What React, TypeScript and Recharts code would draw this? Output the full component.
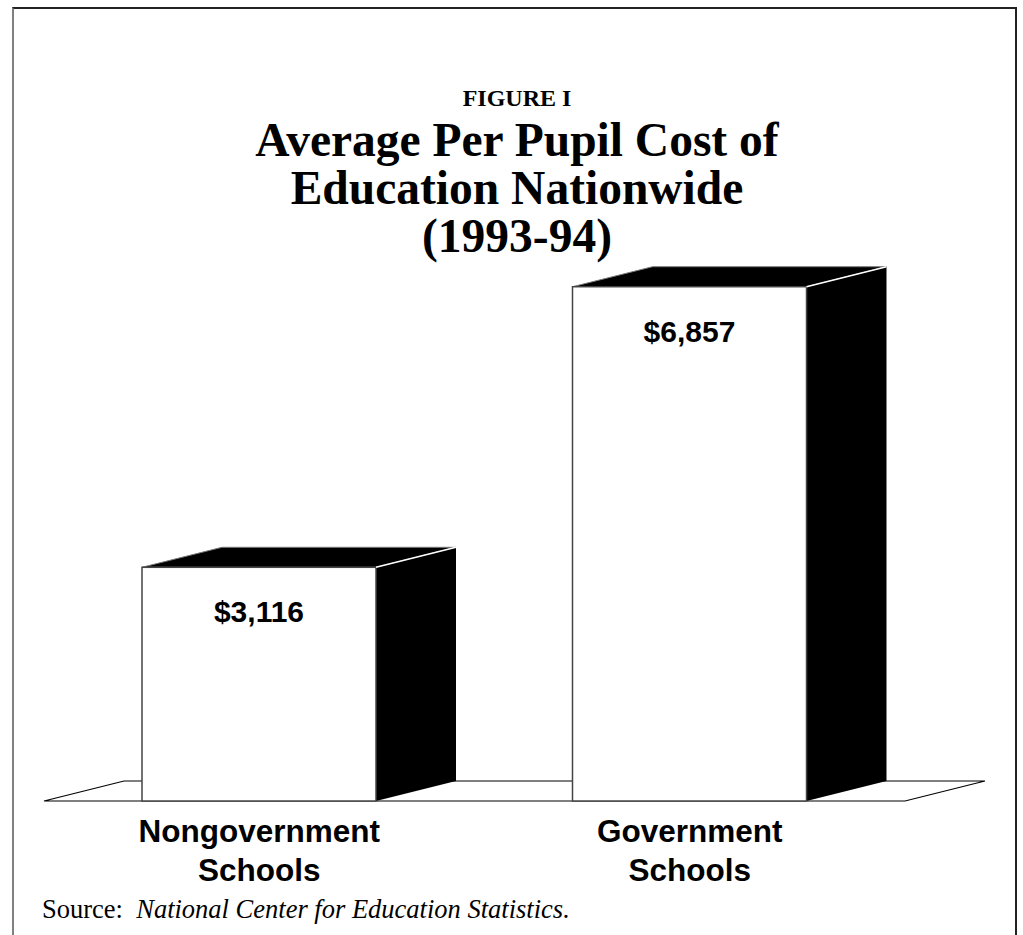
import React from "react";
import { BarChart, Bar, XAxis, YAxis, LabelList, Customized } from "recharts";

const categories = ["Nongovernment Schools", "Government Schools"];
const tickLines = [
  ["Nongovernment", "Schools"],
  ["Government", "Schools"],
];
const costs = [3116, 6857];
const costLabels = ["$3,116", "$6,857"];
const titleLines = ["Average Per Pupil Cost of", "Education Nationwide", "(1993-94)"];

const data = categories.map((name, i) => ({ name, cost: costs[i] }));

const W = 1023;
const H = 935;
const margin = { top: 261, right: 118, bottom: 54, left: 44 };
const axisHeight = 80;
const DX = 80;
const DY = 20;
const serif = '"Liberation Serif", "Times New Roman", serif';
const sans = '"Liberation Sans", Arial, sans-serif';

const Box = (props: any) => {
  const { x, y, width: w, height: h } = props;
  return (
    <g>
      <polygon
        points={`${x},${y} ${x + DX},${y - DY} ${x + w + DX},${y - DY} ${x + w},${y}`}
        fill="#000"
        stroke="#777"
        strokeWidth={1}
      />
      <polygon
        points={`${x + w},${y} ${x + w + DX},${y - DY} ${x + w + DX},${y + h - DY} ${x + w},${y + h}`}
        fill="#000"
      />
      <rect x={x} y={y} width={w} height={h} fill="#fff" stroke="#444" strokeWidth={1.5} />
      <line x1={x + w} y1={y} x2={x + w + DX} y2={y - DY} stroke="#fff" strokeWidth={1.5} />
    </g>
  );
};

const Floor = () => {
  const left = margin.left;
  const right = W - margin.right;
  const base = H - margin.bottom - axisHeight;
  return (
    <polygon
      points={`${left},${base} ${left + DX},${base - DY} ${right + DX},${base - DY} ${right},${base}`}
      fill="none"
      stroke="#000"
      strokeWidth={1.2}
    />
  );
};

const Titles = () => (
  <g fontFamily={serif} fontWeight="bold" textAnchor="middle" fill="#000">
    <text x={517} y={106} fontSize={24}>
      FIGURE I
    </text>
    {titleLines.map((t, i) => (
      <text key={t} x={517} y={156 + i * 48} fontSize={47.5}>
        {t}
      </text>
    ))}
    <text x={42} y={918} fontSize={26.5} fontWeight="normal" textAnchor="start">
      Source:{"\u00a0\u00a0"}
      <tspan fontStyle="italic">National Center for Education Statistics.</tspan>
    </text>
  </g>
);

const CategoryTick = (props: any) => {
  const { x, y, payload } = props;
  const lines = tickLines[payload.index] || [payload.value];
  return (
    <g>
      {lines.map((l: string, i: number) => (
        <text
          key={i}
          x={x}
          y={y + 41 + i * 39}
          textAnchor="middle"
          fontFamily={sans}
          fontWeight="bold"
          fontSize={31.5}
          fill="#000"
        >
          {l}
        </text>
      ))}
    </g>
  );
};

const CostLabel = (props: any) => {
  const { x, y, width, index } = props;
  return (
    <text
      x={x + width / 2}
      y={y + 55}
      textAnchor="middle"
      fontFamily={sans}
      fontWeight="bold"
      fontSize={30}
      fill="#000"
    >
      {costLabels[index]}
    </text>
  );
};

export default function App() {
  return (
    <div style={{ position: "absolute", left: 0, top: 0, width: W, height: H, background: "#fff" }}>
      <div
        style={{
          position: "absolute",
          left: 12,
          top: 7,
          width: 1005,
          height: H,
          borderTop: "2px solid #222",
          borderLeft: "2px solid #808080",
          borderRight: "2px solid #222",
          boxSizing: "border-box",
        }}
      />
      <div style={{ position: "absolute", left: 0, top: 0 }}>
        <BarChart width={W} height={H} data={data} margin={margin}>
          <Customized component={Titles} />
          <Customized component={Floor} />
          <XAxis
            dataKey="name"
            height={axisHeight}
            axisLine={false}
            tickLine={false}
            tickSize={0}
            tickMargin={0}
            interval={0}
            tick={<CategoryTick />}
          />
          <YAxis hide domain={[0, 7200]} />
          <Bar dataKey="cost" barSize={234} shape={<Box />} isAnimationActive={false}>
            <LabelList dataKey="cost" content={<CostLabel />} />
          </Bar>
        </BarChart>
      </div>
    </div>
  );
}
